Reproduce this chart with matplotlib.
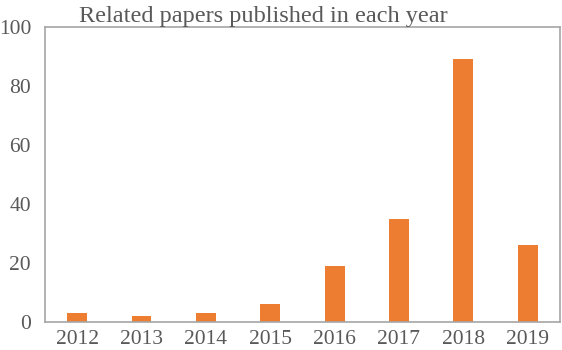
import matplotlib.pyplot as plt

years = ["2012", "2013", "2014", "2015", "2016", "2017", "2018", "2019"]
papers = [3, 2, 3, 6, 19, 35, 89, 26]

plt.rcParams["font.family"] = ["Liberation Serif", "DejaVu Serif"]

fig = plt.figure(figsize=(5.62, 3.5), dpi=100)
ax = fig.add_axes([0.080, 0.080, 0.916, 0.843])

ax.bar(range(len(years)), papers, width=0.31, color="#ED7D31")
ax.set_xlim(-0.5, len(years) - 0.5)
ax.set_ylim(0, 100)
ax.set_yticks([0, 20, 40, 60, 80, 100])
ax.set_xticks(range(len(years)))
ax.set_xticklabels(years)

for s in ax.spines.values():
    s.set_color("#A6A6A6")
    s.set_linewidth(1.2)
ax.tick_params(length=0, labelsize=15.5, colors="#595959", pad=6)
ax.tick_params(axis="y", pad=10)

ax.set_title("Related papers published in each year", fontsize=17.5, color="#595959",
             pad=2, x=0.425)

fig.savefig("out.png", dpi=100)
